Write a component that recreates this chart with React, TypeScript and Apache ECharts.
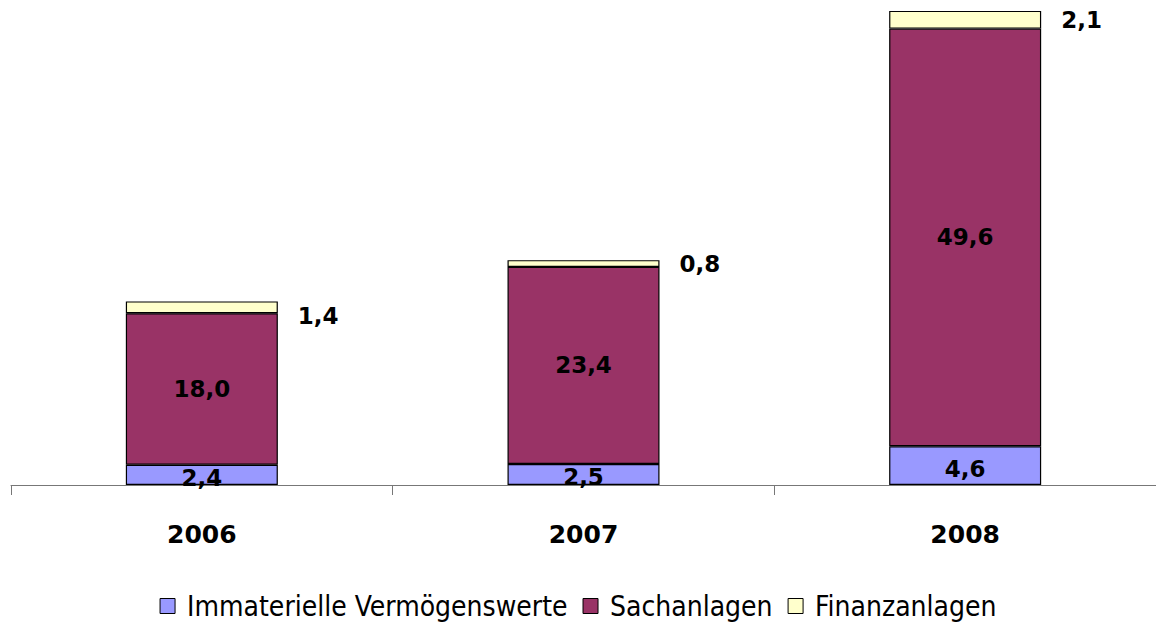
import React, { useEffect, useRef } from "react";
import * as echarts from "echarts";

const categories = ["2006", "2007", "2008"];
const immaterielle = [2.4, 2.5, 4.6];
const sachanlagen = [18.0, 23.4, 49.6];
const finanzanlagen = [1.4, 0.8, 2.1];
const seriesNames = ["Immaterielle Vermögenswerte", "Sachanlagen", "Finanzanlagen"];

const fmt = (v: number) => v.toFixed(1).replace(".", ",");

export default function App() {
  const ref = useRef<HTMLDivElement>(null);
  useEffect(() => {
    const chart = echarts.init(ref.current!, null, { renderer: "svg" });
    const labelFont = {
      fontFamily: "DejaVu Sans",
      fontSize: 23,
      fontWeight: "bold" as any,
      color: "#000",
    };
    chart.setOption({
      animation: false,
      backgroundColor: "#fff",
      grid: { left: 11, top: 5, height: 480, width: 1149 },
      legend: {
        bottom: 2,
        left: "center",
        itemWidth: 15,
        itemHeight: 15,
        itemGap: 15,
        icon: "rect",
        textStyle: { fontFamily: "DejaVu Sans Condensed", fontSize: 28, color: "#000", padding: [0, 0, 0, 7] },
        data: seriesNames.map((n) => ({ name: n, itemStyle: { borderColor: "#000", borderWidth: 1 } })),
      },
      xAxis: {
        type: "category",
        data: categories,
        axisLine: { lineStyle: { color: "#777", width: 1 } },
        axisTick: { show: true, length: 10, lineStyle: { color: "#777" } },
        axisLabel: { fontFamily: "DejaVu Sans", fontSize: 25, fontWeight: "bold", color: "#000", margin: 37 },
      },
      yAxis: {
        type: "value",
        min: 0,
        max: 57,
        show: false,
        splitLine: { show: false },
      },
      series: [
        {
          name: seriesNames[0],
          type: "bar",
          stack: "t",
          barWidth: 152,
          data: immaterielle,
          itemStyle: { color: "#9999FF", borderColor: "#000", borderWidth: 1.2 },
          label: { show: true, position: "inside", offset: [0, 3], ...labelFont, formatter: (p: any) => fmt(p.value) },
        },
        {
          name: seriesNames[1],
          type: "bar",
          stack: "t",
          data: sachanlagen,
          itemStyle: { color: "#993366", borderColor: "#000", borderWidth: 1.2 },
          label: { show: true, position: "inside", ...labelFont, formatter: (p: any) => fmt(p.value) },
        },
        {
          name: seriesNames[2],
          type: "bar",
          stack: "t",
          data: finanzanlagen.map((v, i) => ({
            value: v,
            label: i === 0 ? { offset: [0, 9] } : {},
          })),
          itemStyle: { color: "#FFFFCC", borderColor: "#000", borderWidth: 1.2 },
          label: { show: true, position: "right", distance: 20, ...labelFont, formatter: (p: any) => fmt(p.value) },
        },
      ],
    });
    return () => chart.dispose();
  }, []);
  return <div ref={ref} style={{ width: 1156, height: 627, position: "absolute", left: 0, top: 0 }} />;
}
